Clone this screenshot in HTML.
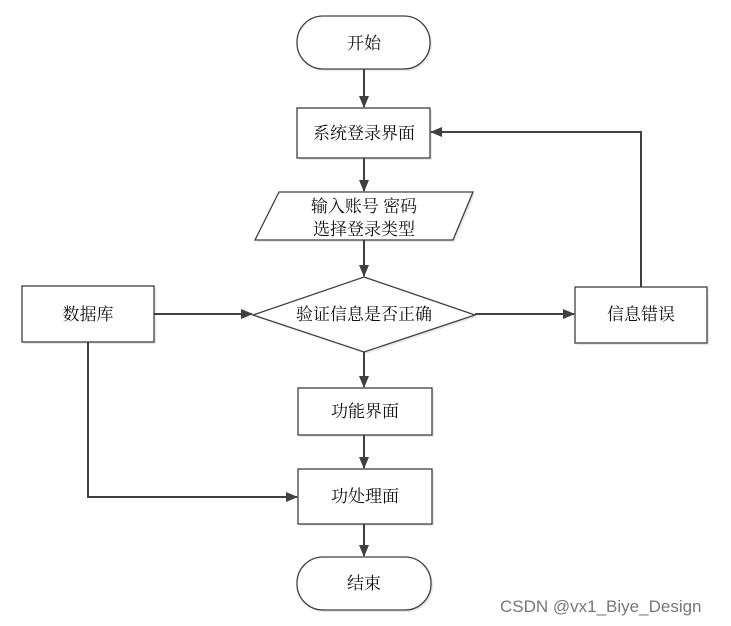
<!DOCTYPE html>
<html><head><meta charset="utf-8"><style>
html,body{margin:0;padding:0;background:#fff;}
svg{display:block;}
text{font-family:"Liberation Serif","Noto Serif CJK SC",serif;font-size:17px;fill:#111;}
</style></head><body>
<svg width="731" height="626" viewBox="0 0 731 626" xmlns="http://www.w3.org/2000/svg">
<defs>
<marker id="a" markerWidth="12" markerHeight="10" refX="11" refY="5" orient="auto" markerUnits="userSpaceOnUse">
<path d="M0,0 L12,5 L0,10 z" fill="#404040"/></marker>
</defs>
<g fill="#e8e8e8" stroke="none">
<rect x="299" y="18" width="133" height="53" rx="26"/>
<rect x="299" y="110" width="133" height="50"/>
<polygon points="281,194 475,194 455,242 257,242"/>
<polygon points="366,279 477,317 366,354 255,317"/>
<rect x="24" y="288" width="132" height="56"/>
<rect x="577" y="289" width="132" height="56"/>
<rect x="300" y="390" width="134" height="47"/>
<rect x="300" y="471" width="134" height="55"/>
<rect x="299" y="559" width="134" height="53" rx="26"/>
</g>
<g fill="#fff" stroke="#404040" stroke-width="1.3">
<rect x="297" y="16" width="133" height="53" rx="26"/>
<rect x="297" y="108" width="133" height="50"/>
<polygon points="279,192 473,192 453,240 255,240"/>
<polygon points="364,277 475,315 364,352 253,315"/>
<rect x="22" y="286" width="132" height="56"/>
<rect x="575" y="287" width="132" height="56"/>
<rect x="298" y="388" width="134" height="47"/>
<rect x="298" y="469" width="134" height="55"/>
<rect x="297" y="557" width="134" height="53" rx="26"/>
</g>
<g stroke="#404040" stroke-width="2" fill="none" marker-end="url(#a)">
<line x1="364" y1="69" x2="364" y2="107"/>
<line x1="364" y1="158" x2="364" y2="191"/>
<line x1="364" y1="240" x2="364" y2="276"/>
<line x1="154" y1="314" x2="252" y2="314"/>
<line x1="475" y1="314" x2="574" y2="314"/>
<polyline points="641,287 641,132 431,132"/>
<line x1="364" y1="352" x2="364" y2="387"/>
<line x1="364" y1="435" x2="364" y2="468"/>
<polyline points="88,342 88,497 297,497"/>
<line x1="364" y1="524" x2="364" y2="556"/>
</g>
<g text-anchor="middle">
<text x="364" y="49">开始</text>
<text x="364" y="139">系统登录界面</text>
<text x="364" y="212">输入账号 密码</text>
<text x="364" y="235">选择登录类型</text>
<text x="364" y="320">验证信息是否正确</text>
<text x="88" y="320">数据库</text>
<text x="641" y="320">信息错误</text>
<text x="365" y="417">功能界面</text>
<text x="365" y="502">功处理面</text>
<text x="364" y="589">结束</text>
</g>
<text x="500" y="612" style="font-family:'Liberation Sans',sans-serif;font-size:17px;fill:#777;">CSDN @vx1_Biye_Design</text>
</svg>
</body></html>
